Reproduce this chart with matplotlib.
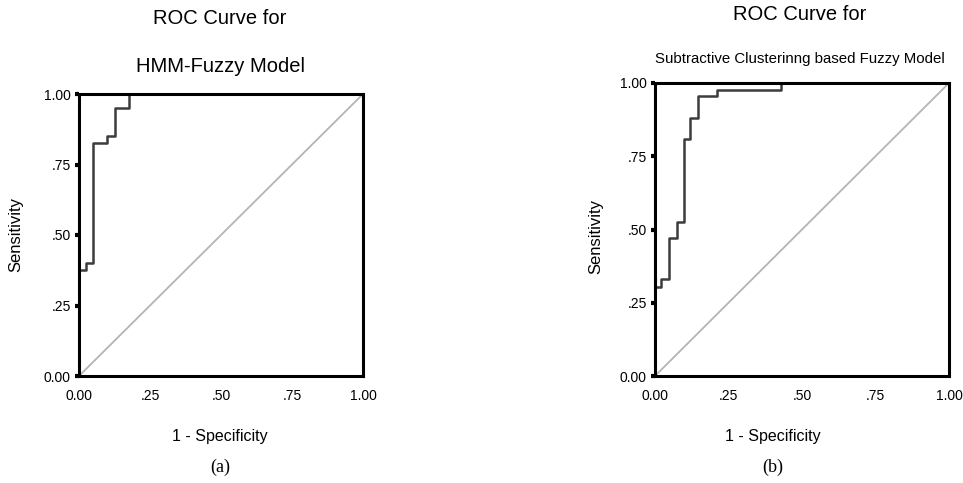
import matplotlib
matplotlib.use('Agg')
import matplotlib.pyplot as plt

plt.rcParams['font.family'] = ['Liberation Sans', 'DejaVu Sans']

# ROC points (1 - specificity, sensitivity)
fpr_a = [0, 0, 0.025, 0.05, 0.10, 0.125, 0.175, 1.0]
tpr_a = [0, 0.375, 0.40, 0.825, 0.85, 0.95, 1.0, 1.0]

fpr_b = [0, 0, 0.02, 0.048, 0.074, 0.10, 0.12, 0.145, 0.21, 0.43, 1.0]
tpr_b = [0, 0.305, 0.33, 0.47, 0.525, 0.81, 0.88, 0.955, 0.975, 1.0, 1.0]

tick_vals = [0, 0.25, 0.5, 0.75, 1.0]
tick_labels = ['0.00', '.25', '.50', '.75', '1.00']

W, H = 963, 483
fig = plt.figure(figsize=(W / 100, H / 100), dpi=100)


def px_axes(x0, y0, x1, y1):
    return fig.add_axes([x0 / W, 1 - y1 / H, (x1 - x0) / W, (y1 - y0) / H])


def draw_roc(ax, fpr, tpr):
    ax.plot([0, 1], [0, 1], color='#b4b4b4', lw=1.3, zorder=2)
    ax.plot(fpr, tpr, color='#3c3c3c', lw=1.8, drawstyle='steps-post',
            zorder=2.2, clip_on=False)
    ax.set_xlim(0, 1)
    ax.set_ylim(0, 1)
    ax.set_xticks(tick_vals)
    ax.set_xticklabels(tick_labels, fontsize=10)
    ax.set_yticks(tick_vals)
    ax.set_yticklabels(tick_labels, fontsize=10)
    ax.tick_params(axis='x', length=0, pad=9)
    ax.tick_params(axis='y', length=3, width=3, direction='out', pad=3)
    for s in ax.spines.values():
        s.set_linewidth(2.2)
        s.set_color('black')
        s.set_zorder(3)


def ftext(x, y, s, **kw):
    fig.text(x / W, 1 - y / H, s, ha='center', va='center', **kw)


# (a)
ax1 = px_axes(79, 94, 363, 376)
draw_roc(ax1, fpr_a, tpr_a)
ftext(220, 18, 'ROC Curve for', fontsize=14.5)
ftext(220, 67, 'HMM-Fuzzy Model', fontsize=14.5)
ftext(16, 235, 'Sensitivity', fontsize=12, rotation=90)
ftext(220, 436, '1 - Specificity', fontsize=11.5)
ftext(220, 467, '(a)', fontsize=13, family='Liberation Serif')

# (b)
ax2 = px_axes(655, 83, 949, 376)
draw_roc(ax2, fpr_b, tpr_b)
ftext(800, 15, 'ROC Curve for', fontsize=14.5)
ftext(800, 59, 'Subtractive Clusterinng based Fuzzy Model', fontsize=10.8)
ftext(596, 237, 'Sensitivity', fontsize=12, rotation=90)
ftext(773, 437, '1 - Specificity', fontsize=11.5)
ftext(773, 467, '(b)', fontsize=13, family='Liberation Serif')

fig.savefig('out.png', dpi=100)
